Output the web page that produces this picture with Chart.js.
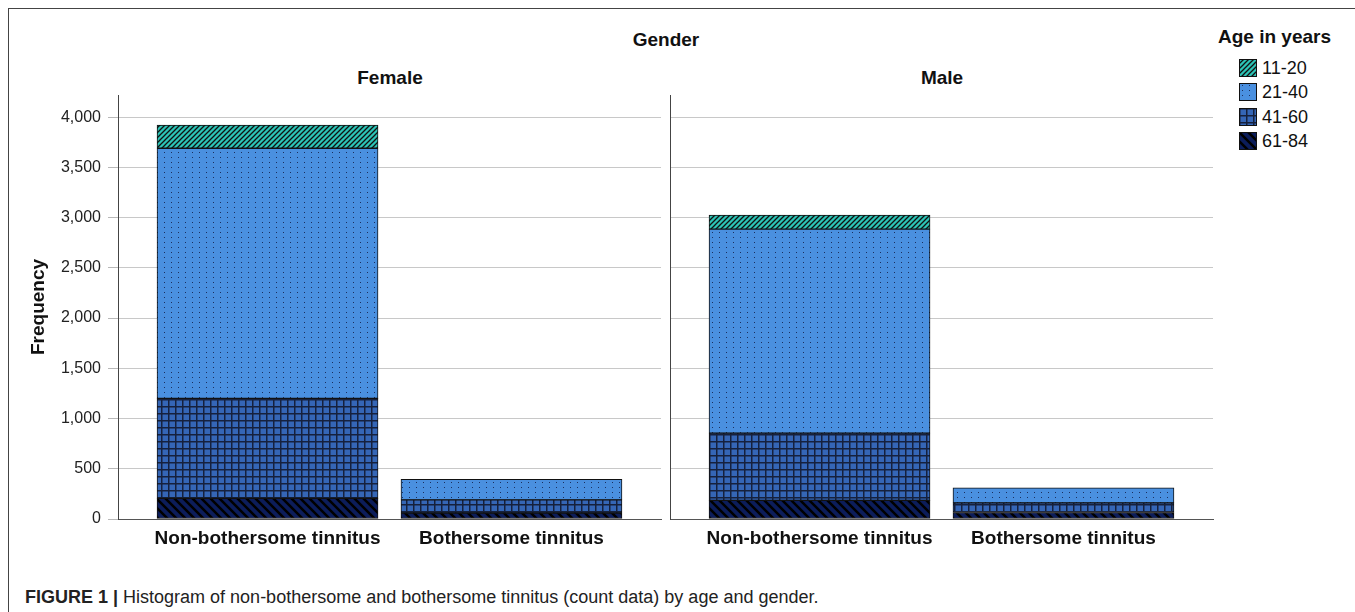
<!DOCTYPE html>
<html>
<head>
<meta charset="utf-8">
<script src="https://cdn.jsdelivr.net/npm/chart.js@4/dist/chart.umd.min.js"></script>
<style>
    body { margin: 0; width: 1355px; height: 612px; background: #fff; position: relative; overflow: hidden;
           font-family: "Liberation Sans", Arial, sans-serif; color: #111; }
    .frame { position: absolute; left: 8px; top: 8px; width: 1400px; height: 700px;
             border-left: 1px solid #444; border-top: 1px solid #444; }
    .lbl { position: absolute; font-weight: bold; font-size: 19px; line-height: 22px; white-space: nowrap; }
    .center { transform: translateX(-50%); }
    canvas.panel { position: absolute; top: 0; }
    .legend-item { position: absolute; left: 1239px; height: 20px; font-size: 18px; line-height: 20px; white-space: nowrap; }
    .legend-item canvas { position: absolute; left: 0; top: 1px; }
    .legend-item span { position: absolute; left: 23px; top: 0; }
    .caption { position: absolute; left: 25px; top: 586px; font-size: 18px; line-height: 22px; white-space: nowrap; color: #222; }
</style>
</head>
<body>
<div class="frame"></div>
<div class="lbl center" style="left:666px;top:29px">Gender</div>
<div class="lbl center" style="left:390px;top:67px">Female</div>
<div class="lbl center" style="left:942px;top:67px">Male</div>
<canvas id="femaleChart" class="panel" style="left:0px" width="665" height="560"></canvas>
<canvas id="maleChart" class="panel" style="left:660px" width="557" height="560"></canvas>
<div class="lbl" style="left:1218px;top:26px">Age in years</div>
<div id="legend"></div>
<div class="caption"><b>FIGURE 1 |</b> Histogram of non-bothersome and bothersome tinnitus (count data) by age and gender.</div>

<script>
const groups = ['Non-bothersome tinnitus', 'Bothersome tinnitus'];
// stacking order, bottom first
const ageBands = ['61-84', '41-60', '21-40', '11-20'];

const female6184 = [205, 60];
const female4160 = [995, 130];
const female2140 = [2490, 205];
const female1120 = [230, 0];

const male6184 = [185, 65];
const male4160 = [670, 95];
const male2140 = [2030, 150];
const male1120 = [140, 0];

const yTicks = [0, 500, 1000, 1500, 2000, 2500, 3000, 3500, 4000];

function makePattern(kind) {
    const c = document.createElement('canvas');
    const g = c.getContext('2d');
    if (kind === '11-20') {
        c.width = 5; c.height = 5;
        g.fillStyle = '#2cc4b6'; g.fillRect(0, 0, 5, 5);
        g.strokeStyle = '#111'; g.lineWidth = 1.3;
        g.beginPath();
        g.moveTo(-1, 6); g.lineTo(6, -1);
        g.moveTo(-1, 1); g.lineTo(1, -1);
        g.moveTo(4, 6); g.lineTo(6, 4);
        g.stroke();
    } else if (kind === '21-40') {
        c.width = 7; c.height = 5;
        g.fillStyle = '#4a90e0'; g.fillRect(0, 0, 7, 5);
        g.fillStyle = '#1b2f5e'; g.fillRect(3, 2, 1, 1);
    } else if (kind === '41-60') {
        c.width = 7; c.height = 7;
        g.fillStyle = '#3566b6'; g.fillRect(0, 0, 7, 7);
        g.fillStyle = '#16213d';
        g.fillRect(0, 0, 7, 1.5); g.fillRect(0, 0, 1.5, 7);
    } else {
        c.width = 9; c.height = 9;
        g.fillStyle = '#0c1d5a'; g.fillRect(0, 0, 9, 9);
        g.strokeStyle = '#000'; g.lineWidth = 2.5;
        g.beginPath();
        g.moveTo(-1, -1); g.lineTo(10, 10);
        g.moveTo(-1, 8); g.lineTo(1, 10);
        g.moveTo(8, -1); g.lineTo(10, 1);
        g.stroke();
    }
    return g.createPattern(c, 'repeat');
}

const patterns = {};
ageBands.forEach(b => { patterns[b] = makePattern(b); });

function buildDatasets(series) {
    return ageBands.map((band, i) => ({
        label: band,
        data: series[i].map((v, k) => ({ x: k, y: v })),
        backgroundColor: patterns[band],
        borderColor: '#111',
        borderWidth: 1,
        borderSkipped: false,
        grouped: false,
        barThickness: 221
    }));
}

function makePanel(canvasId, series, showY) {
    const ctx = document.getElementById(canvasId).getContext('2d');
    return new Chart(ctx, {
        type: 'bar',
        data: { datasets: buildDatasets(series) },
        options: {
            responsive: false,
            animation: false,
            events: [],
            layout: { padding: { top: 95, left: 0, right: 4, bottom: 0 } },
            plugins: { legend: { display: false }, tooltip: { enabled: false } },
            scales: {
                x: {
                    type: 'linear',
                    offset: false,
                    bounds: 'data',
                    min: -0.613,
                    max: 1.613,
                    afterBuildTicks: s => { s.ticks = groups.map((g, i) => ({ value: i })); },
                    afterFit: s => { s.height = 41; },
                    ticks: {
                        autoSkip: false, maxRotation: 0, padding: 8, color: '#111',
                        font: { family: '"Liberation Sans", Arial, sans-serif', size: 19, weight: 'bold' },
                        callback: v => groups[v]
                    },
                    grid: { display: false, drawTicks: false, offset: false },
                    border: { display: true, color: '#555', width: 1 }
                },
                y: {
                    stacked: true,
                    min: 0,
                    max: 4220,
                    afterBuildTicks: s => { s.ticks = yTicks.map(v => ({ value: v })); },
                    afterFit: s => { s.width = showY ? 118 : 10; },
                    ticks: {
                        display: showY, padding: 7, color: '#222',
                        font: { family: '"Liberation Sans", Arial, sans-serif', size: 16 },
                        callback: v => v.toLocaleString('en-US')
                    },
                    grid: { color: '#c8c8c8', drawTicks: showY, tickLength: 10, tickColor: '#b8b8b8' },
                    border: { display: true, color: '#444', width: 1 },
                    title: {
                        display: showY, text: 'Frequency', color: '#111',
                        font: { family: '"Liberation Sans", Arial, sans-serif', size: 19, weight: 'bold' },
                        padding: { top: 27, bottom: 0 }
                    }
                }
            }
        }
    });
}

makePanel('femaleChart', [female6184, female4160, female2140, female1120], true);
makePanel('maleChart', [male6184, male4160, male2140, male1120], false);

// legend, top entry is the youngest band
const legendTops = [58, 82, 107, 131];
const legend = document.getElementById('legend');
ageBands.slice().reverse().forEach((band, i) => {
    const item = document.createElement('div');
    item.className = 'legend-item';
    item.style.top = legendTops[i] + 'px';
    const sw = document.createElement('canvas');
    sw.width = 18; sw.height = 18;
    const g = sw.getContext('2d');
    g.fillStyle = makePattern(band);
    g.fillRect(0, 0, 18, 18);
    g.strokeStyle = '#111'; g.lineWidth = 1;
    g.strokeRect(0.5, 0.5, 17, 17);
    const txt = document.createElement('span');
    txt.textContent = band;
    item.appendChild(sw);
    item.appendChild(txt);
    legend.appendChild(item);
});
</script>
</body>
</html>
